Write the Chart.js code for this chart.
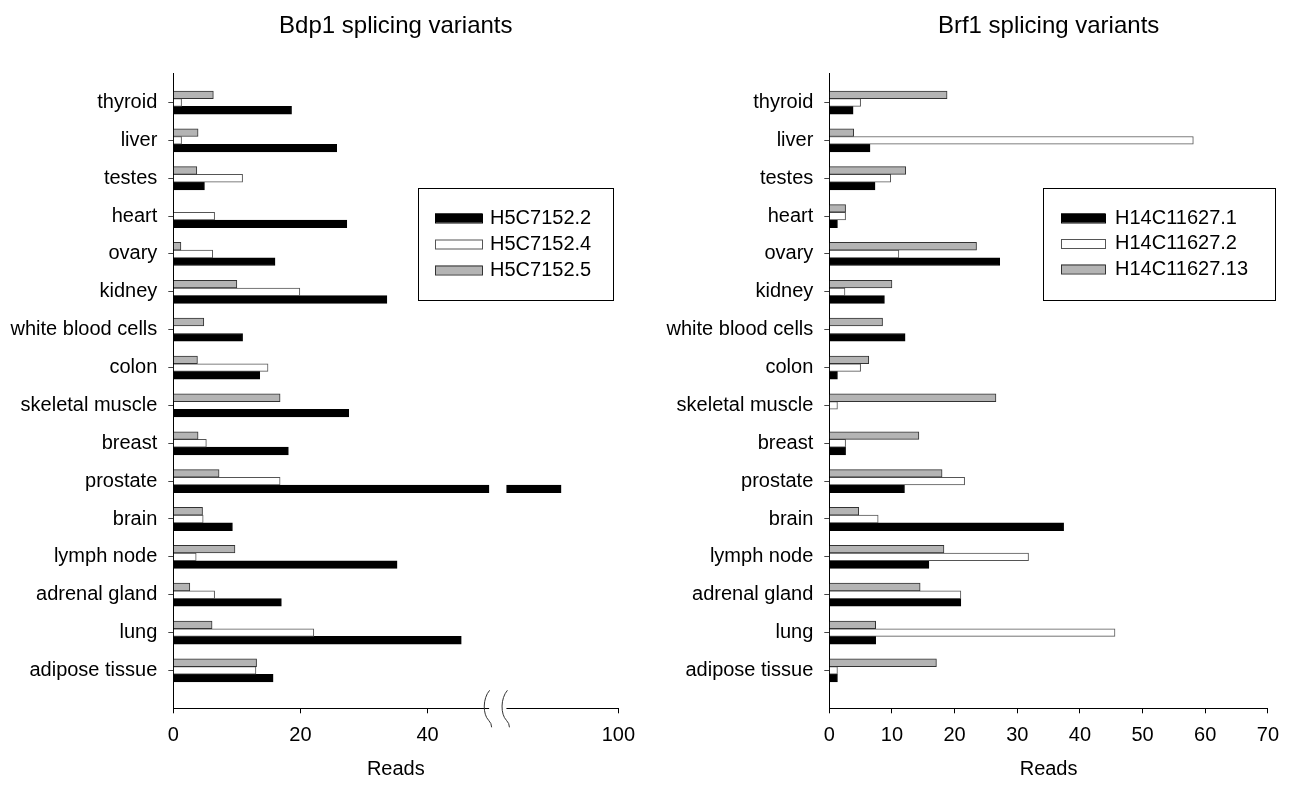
<!DOCTYPE html>
<html>
<head>
<meta charset="utf-8">
<script src="https://cdn.jsdelivr.net/npm/chart.js@4.4.1/dist/chart.umd.min.js"></script>
<style>
  html, body { margin: 0; padding: 0; background: #fff; }
  #wrap { position: relative; width: 1289px; height: 788px; }
  .pane { position: absolute; top: 0; height: 788px; }
</style>
</head>
<body>
<div id="wrap">
  <div class="pane" style="left:0;width:645px"><canvas id="bdp1"></canvas></div>
  <div class="pane" style="left:645px;width:644px"><canvas id="brf1"></canvas></div>
</div>
<script>
const categories = ['thyroid', 'liver', 'testes', 'heart', 'ovary', 'kidney', 'white blood cells', 'colon',
    'skeletal muscle', 'breast', 'prostate', 'brain', 'lymph node', 'adrenal gland', 'lung', 'adipose tissue'];

// Bdp1 variants (reads)
const bdp1Labels = ['H5C7152.2', 'H5C7152.4', 'H5C7152.5'];
const bdp1_2 = [18.6, 25.7, 4.9, 27.3, 16.0, 33.6, 10.9, 13.6, 27.6, 18.1, 91, 9.3, 35.2, 17.0, 45.3, 15.7];
const bdp1_4 = [1.3, 1.3, 10.9, 6.5, 6.2, 19.9, 0, 14.9, 0, 5.2, 16.8, 4.7, 3.6, 6.5, 22.1, 13.0];
const bdp1_5 = [6.3, 3.9, 3.7, 0, 1.2, 10.0, 4.8, 3.8, 16.8, 3.9, 7.2, 4.6, 9.7, 2.6, 6.1, 13.1];
const bdp1Ticks = [0, 20, 40, 100];

// Brf1 variants (reads)
const brf1Labels = ['H14C11627.1', 'H14C11627.2', 'H14C11627.13'];
const brf1_1 = [3.8, 6.5, 7.3, 1.3, 27.2, 8.8, 12.1, 1.3, 0, 2.6, 12.0, 37.4, 15.9, 21.0, 7.4, 1.3];
const brf1_2 = [5.0, 58.1, 9.8, 2.6, 11.1, 2.5, 0, 5.0, 1.3, 2.6, 21.6, 7.8, 31.8, 21.0, 45.6, 1.3];
const brf1_13 = [18.8, 3.9, 12.2, 2.6, 23.5, 10.0, 8.5, 6.3, 26.6, 14.3, 18.0, 4.7, 18.3, 14.5, 7.4, 17.1];

// broken axis on the Bdp1 chart: values above 50 are shifted left by 30
const breakAt = 50;
const breakShift = 30;
const toDisplay = v => v > breakAt ? v - breakShift : v;
const fromDisplay = v => v > breakAt ? v + breakShift : v;

Chart.defaults.font.family = '"Liberation Sans", Arial, sans-serif';
Chart.defaults.font.size = 20;
Chart.defaults.color = '#000';

const styles = [
    { backgroundColor: '#000000', borderColor: '#000000' },
    { backgroundColor: '#ffffff', borderColor: '#555555' },
    { backgroundColor: '#b4b4b4', borderColor: '#333333' }
];

function makeSets(labels, series, map) {
    // drawn top-to-bottom: grey, white, black
    return series.map((vals, k) => ({
        label: labels[k],
        data: vals.map((v, i) => ({ x: map(v), y: i })),
        backgroundColor: styles[k].backgroundColor,
        borderColor: styles[k].borderColor,
        borderWidth: 1,
        barThickness: 7.7
    })).reverse();
}

const axisBreak = {
    id: 'axisBreak',
    afterDatasetsDraw(chart, args, opts) {
        if (!opts.on) return;
        const { ctx, chartArea, scales } = chart;
        const a = scales.x.getPixelForValue(opts.from);
        const b = scales.x.getPixelForValue(opts.to);
        ctx.save();
        ctx.fillStyle = '#fff';
        ctx.fillRect(a + 0.5, chartArea.top, b - a - 0.5, chartArea.bottom - chartArea.top + 2);
        ctx.strokeStyle = '#333';
        ctx.lineWidth = 1;
        const y0 = chartArea.bottom - 18;
        [a, b].forEach(px => {
            ctx.beginPath();
            ctx.moveTo(px + 1, y0);
            ctx.bezierCurveTo(px - 6, y0 + 8, px - 6, y0 + 24, px, y0 + 30);
            ctx.quadraticCurveTo(px + 3, y0 + 33, px + 3, y0 + 37);
            ctx.stroke();
        });
        ctx.restore();
    }
};

const boxLegend = {
    id: 'boxLegend',
    afterDraw(chart, args, opts) {
        const ctx = chart.ctx;
        ctx.save();
        ctx.fillStyle = '#fff';
        ctx.fillRect(opts.x, opts.y, opts.w, opts.h);
        ctx.lineWidth = 1;
        ctx.strokeStyle = '#000';
        ctx.strokeRect(opts.x + 0.5, opts.y + 0.5, opts.w, opts.h);
        ctx.font = '20px "Liberation Sans", Arial, sans-serif';
        ctx.textBaseline = 'middle';
        chart.data.datasets.slice().reverse().forEach((ds, i) => {
            const cy = opts.y + opts.firstRow + i * opts.rowGap;
            ctx.fillStyle = ds.backgroundColor;
            ctx.fillRect(opts.x + opts.swX, cy - 4.5, opts.swW, 9);
            ctx.strokeStyle = ds.borderColor;
            ctx.strokeRect(opts.x + opts.swX + 0.5, cy - 4.5 + 0.5, opts.swW, 9);
            ctx.fillStyle = '#000';
            ctx.fillText(ds.label, opts.x + opts.textX, cy);
        });
        ctx.restore();
    }
};

function makeChart(id, title, sets, xOpts, yWidth, padRight, legendBox, breakOpts) {
    return new Chart(document.getElementById(id), {
        type: 'bar',
        data: { datasets: sets },
        plugins: [axisBreak, boxLegend],
        options: {
            indexAxis: 'y',
            responsive: true,
            maintainAspectRatio: false,
            animation: false,
            events: [],
            layout: { padding: { left: 0, right: padRight, top: 0, bottom: 0 } },
            plugins: {
                legend: { display: false },
                tooltip: { enabled: false },
                title: {
                    display: true,
                    text: title,
                    fullSize: false,
                    font: { size: 24, weight: 'normal' },
                    padding: { top: 12, bottom: 32.2 }
                },
                boxLegend: legendBox,
                axisBreak: breakOpts
            },
            scales: {
                x: Object.assign({
                    type: 'linear',
                    position: 'bottom',
                    border: { color: '#000', width: 1 },
                    grid: { drawOnChartArea: false, tickLength: 5, tickColor: '#000' },
                    title: { display: true, text: 'Reads', font: { size: 20 }, padding: { top: 0, bottom: 7 } },
                    afterFit(s) { s.height = 79.7; }
                }, xOpts),
                y: {
                    type: 'linear',
                    reverse: true,
                    offset: false,
                    min: -0.78,
                    max: 16,
                    border: { color: '#000', width: 1 },
                    grid: { offset: false, drawOnChartArea: false, tickLength: 5, tickColor: '#444' },
                    ticks: {
                        autoSkip: false,
                        padding: 11,
                        font: { size: 20 },
                        callback: v => categories[v]
                    },
                    afterBuildTicks(s) { s.ticks = categories.map((c, i) => ({ value: i })); },
                    afterFit(s) { s.width = yWidth; }
                }
            }
        }
    });
}

makeChart('bdp1', 'Bdp1 splicing variants',
    makeSets(bdp1Labels, [bdp1_2, bdp1_4, bdp1_5], toDisplay),
    {
        min: 0, max: toDisplay(100),
        ticks: { padding: 10, autoSkip: false, font: { size: 20 }, callback: v => String(fromDisplay(v)) },
        afterBuildTicks(s) { s.ticks = bdp1Ticks.map(t => ({ value: toDisplay(t) })); }
    },
    173.3, 25,
    { x: 418, y: 188, w: 195, h: 112, firstRow: 30, rowGap: 26, swX: 17, swW: 47, textX: 72 },
    { on: true, from: 49.6, to: 52.4 });

makeChart('brf1', 'Brf1 splicing variants',
    makeSets(brf1Labels, [brf1_1, brf1_2, brf1_13], v => v),
    {
        min: 0, max: 70,
        ticks: { stepSize: 10, padding: 10, autoSkip: false, font: { size: 20 } }
    },
    184.3, 13,
    { x: 398, y: 188, w: 232, h: 112, firstRow: 30, rowGap: 25.5, swX: 18, swW: 44, textX: 72 },
    { on: false });
</script>
</body>
</html>
